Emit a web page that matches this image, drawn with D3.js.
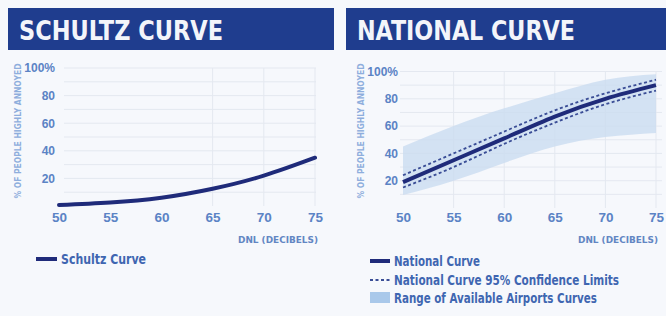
<!DOCTYPE html>
<html>
<head>
<meta charset="utf-8">
<script src="https://cdn.jsdelivr.net/npm/d3@7"></script>
<style>
  body { margin: 0; background: #f6f8fc; }
  svg { display: block; font-family: "Liberation Sans Narrow", "DejaVu Sans Condensed", "Roboto", sans-serif; }
</style>
</head>
<body>
<div id="chart"></div>
<script>
// data
var dnl = [50, 55, 60, 65, 70, 75];
var schultz = [0.7, 2.5, 6, 12.5, 22, 35];
var national = [19, 35, 51, 67, 80, 90];
var nationalUpper = [24, 40, 56, 71.5, 84, 94];
var nationalLower = [15, 30, 47, 62.5, 76, 86];
var rangeTop = [45, 60, 73, 84, 94, 98];
var rangeBottom = [9.5, 20, 33, 45, 52, 55];
var yTicks = [20, 40, 60, 80, 100];
var gridY = [10, 20, 30, 40, 50, 60, 70, 80, 90, 100];

var width = 666, height = 316;

var headColor = "#1f3d8e";
var tickColor = "#5b83c5";
var lineColor = "#1f2b7a";
var legendColor = "#3f66b1";

var svg = d3.select("#chart")
  .append("svg")
  .attr("width", width)
  .attr("height", height);

svg.append("rect")
  .attr("width", width)
  .attr("height", height)
  .attr("fill", "#f6f8fc");

// headers
function header(x, w, label, len) {
  svg.append("rect")
    .attr("x", x).attr("y", 8)
    .attr("width", w).attr("height", 42)
    .attr("fill", headColor);
  svg.append("text")
    .attr("x", x + 11).attr("y", 40)
    .attr("textLength", len)
    .attr("lengthAdjust", "spacingAndGlyphs")
    .style("font-size", "26px")
    .style("font-weight", "bold")
    .style("fill", "#f3f5fa")
    .text(label);
}
header(8, 326, "SCHULTZ CURVE", 204);
header(346, 320, "NATIONAL CURVE", 218);

// one chart panel: scales, grid, axes, labels
function panel(opts) {
  var x = d3.scaleLinear().domain([50, 75]).range(opts.xRange);
  var y = d3.scaleLinear().domain([0, 100]).range(opts.yRange);
  var g = svg.append("g");

  g.selectAll(".hgrid")
    .data(gridY)
    .enter()
    .append("line")
    .attr("x1", opts.gridX[0]).attr("x2", opts.gridX[1])
    .attr("y1", d => y(d)).attr("y2", d => y(d))
    .attr("stroke", "#e4e8f0")
    .attr("stroke-width", 1);

  g.selectAll(".vgrid")
    .data(opts.vGrid)
    .enter()
    .append("line")
    .attr("x1", d => x(d)).attr("x2", d => x(d))
    .attr("y1", y(100)).attr("y2", y(0))
    .attr("stroke", "#e4e8f0")
    .attr("stroke-width", 1);

  var yAxis = d3.axisLeft(y)
    .tickValues(yTicks)
    .tickSize(0)
    .tickPadding(0)
    .tickFormat(d => d === 100 ? "100%" : d);

  var yg = g.append("g")
    .attr("transform", "translate(" + opts.yLabelX + ",0)")
    .call(yAxis);
  yg.select(".domain").remove();
  yg.selectAll("text")
    .style("font-size", "12px")
    .style("font-weight", "bold")
    .style("font-family", "inherit")
    .style("fill", tickColor);

  var xAxis = d3.axisBottom(x)
    .tickValues(dnl)
    .tickSize(0)
    .tickPadding(opts.xPad)
    .tickFormat(d3.format("d"));

  var xg = g.append("g")
    .attr("transform", "translate(0," + y(0) + ")")
    .call(xAxis);
  xg.select(".domain").remove();
  xg.selectAll("text")
    .style("font-size", "13.5px")
    .style("font-weight", "bold")
    .style("font-family", "inherit")
    .style("fill", tickColor);

  // axis titles
  g.append("text")
    .attr("transform", "translate(" + opts.yTitleX + ",131) rotate(-90)")
    .attr("text-anchor", "middle")
    .attr("dy", "0.35em")
    .attr("textLength", 135)
    .attr("lengthAdjust", "spacingAndGlyphs")
    .style("font-size", "8px")
    .style("font-weight", "bold")
    .style("fill", "#8eaedd")
    .text("% OF PEOPLE HIGHLY ANNOYED");

  g.append("text")
    .attr("x", opts.dnlX).attr("y", 243)
    .attr("text-anchor", "end")
    .attr("textLength", 80)
    .attr("lengthAdjust", "spacingAndGlyphs")
    .style("font-size", "9.5px")
    .style("font-weight", "bold")
    .style("fill", "#6286c3")
    .text("DNL (DECIBELS)");

  return { g: g, x: x, y: y };
}

// ---- Schultz ----
var left = panel({
  xRange: [59, 315], yRange: [206, 68],
  gridX: [64, 316], vGrid: [65, 70, 75],
  yLabelX: 55, xPad: 6, yTitleX: 18, dnlX: 318
});

var schultzLine = d3.line()
  .x((d, i) => left.x(dnl[i]))
  .y(d => left.y(d))
  .curve(d3.curveNatural);

left.g.append("path")
  .datum(schultz)
  .attr("d", schultzLine)
  .attr("fill", "none")
  .attr("stroke", lineColor)
  .attr("stroke-width", 4)
  .attr("stroke-linecap", "round");

// ---- National ----
var right = panel({
  xRange: [403, 656], yRange: [208, 71.5],
  gridX: [400, 662], vGrid: [55, 60, 65, 70, 75],
  yLabelX: 398, xPad: 4, yTitleX: 361, dnlX: 658
});

var area = d3.area()
  .x((d, i) => right.x(dnl[i]))
  .y0((d, i) => right.y(rangeBottom[i]))
  .y1(d => right.y(d))
  .curve(d3.curveNatural);

right.g.append("path")
  .datum(rangeTop)
  .attr("d", area)
  .attr("fill", "#cadcf0")
  .attr("opacity", 0.8);

var natLine = d3.line()
  .x((d, i) => right.x(dnl[i]))
  .y(d => right.y(d))
  .curve(d3.curveNatural);

[nationalUpper, nationalLower].forEach(function (s) {
  right.g.append("path")
    .datum(s)
    .attr("d", natLine)
    .attr("fill", "none")
    .attr("stroke", "#3a4d96")
    .attr("stroke-width", 1.8)
    .attr("stroke-dasharray", "3,2.5");
});

right.g.append("path")
  .datum(national)
  .attr("d", natLine)
  .attr("fill", "none")
  .attr("stroke", lineColor)
  .attr("stroke-width", 4);

// ---- legends ----
function legendText(x, y, label, len) {
  svg.append("text")
    .attr("x", x).attr("y", y)
    .attr("dy", "0.35em")
    .attr("textLength", len)
    .attr("lengthAdjust", "spacingAndGlyphs")
    .style("font-size", "14px")
    .style("font-weight", "bold")
    .style("fill", legendColor)
    .text(label);
}

svg.append("line")
  .attr("x1", 36).attr("x2", 57)
  .attr("y1", 259).attr("y2", 259)
  .attr("stroke", lineColor).attr("stroke-width", 4);
legendText(61, 259, "Schultz Curve", 85);

svg.append("line")
  .attr("x1", 370).attr("x2", 390)
  .attr("y1", 261).attr("y2", 261)
  .attr("stroke", lineColor).attr("stroke-width", 4);
legendText(394, 261, "National Curve", 86);

svg.append("line")
  .attr("x1", 370).attr("x2", 390)
  .attr("y1", 280).attr("y2", 280)
  .attr("stroke", "#3a4d96").attr("stroke-width", 1.8)
  .attr("stroke-dasharray", "3,2.5");
legendText(394, 280, "National Curve 95% Confidence Limits", 225);

svg.append("rect")
  .attr("x", 370).attr("y", 292)
  .attr("width", 20).attr("height", 11)
  .attr("fill", "#a9c8ea");
legendText(394, 298, "Range of Available Airports Curves", 203);
</script>
</body>
</html>
